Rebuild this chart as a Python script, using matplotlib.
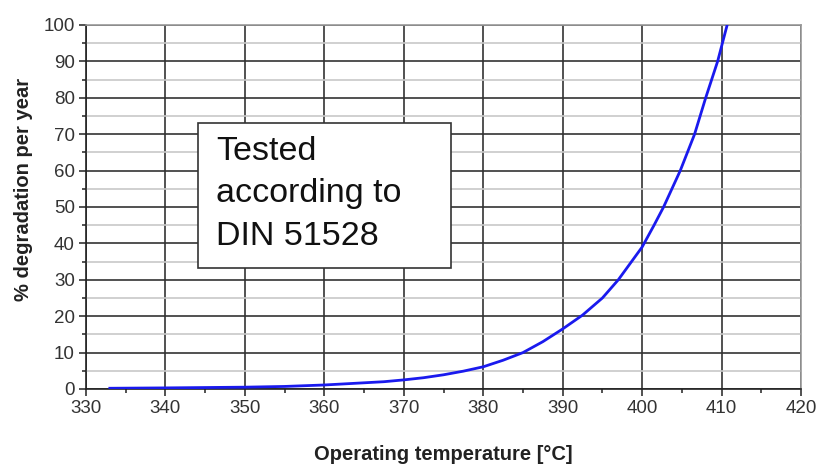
import matplotlib
matplotlib.use("Agg")
import matplotlib.pyplot as plt
from matplotlib.ticker import MultipleLocator

plt.rcParams['font.family'] = ['Liberation Sans', 'DejaVu Sans']

# values
temperature = [333, 340, 350, 355, 360, 362.5, 365, 367.5, 370, 372.5, 375,
               377.5, 380, 382.5, 385, 387.5, 390, 392.5, 395, 397, 398.5,
               400, 401.5, 402.7, 404.8, 406.6, 408, 409.5, 410.7, 411.2]
degradation = [0.2, 0.3, 0.5, 0.7, 1.1, 1.4, 1.7, 2.0, 2.5, 3.1, 3.9,
               4.9, 6.1, 7.9, 10, 13, 16.5, 20.3, 25, 30, 34.5,
               39, 45, 50, 60, 70, 80, 90, 100, 104]

x_ticks = list(range(330, 421, 10))
y_ticks = list(range(0, 101, 10))

fig = plt.figure(figsize=(8.22, 4.69), dpi=100)
ax = fig.add_axes([0.1046, 0.1706, 0.8699, 0.7761])

ax.plot(temperature, degradation, color='#1a1aee', lw=2, zorder=3)

ax.set_xlim(330, 420)
ax.set_ylim(0, 100)
ax.set_xticks(x_ticks)
ax.set_yticks(y_ticks)
ax.xaxis.set_minor_locator(MultipleLocator(5))
ax.yaxis.set_minor_locator(MultipleLocator(5))

ax.grid(which='major', color='#333333', lw=1.2)
ax.grid(which='minor', axis='y', color='#c8c8c8', lw=1.2)
ax.set_axisbelow(True)

for side in ['left', 'bottom']:
    ax.spines[side].set_color('#222222')
    ax.spines[side].set_linewidth(1.2)
for side in ['top', 'right']:
    ax.spines[side].set_color('#999999')
    ax.spines[side].set_linewidth(1.2)

ax.tick_params(which='major', length=5, width=1.1, color='#222222',
               labelsize=13.5, labelcolor='#333333', pad=3)
ax.tick_params(which='minor', length=3, width=1.1, color='#222222')

ax.set_xlabel('Operating temperature [°C]', fontsize=14.5, fontweight='bold',
              color='#222222', labelpad=20)
ax.set_ylabel('% degradation per year', fontsize=14.5, fontweight='bold',
              color='#222222')
ax.yaxis.set_label_coords(-0.074, 0.547)

# annotation box
box = plt.Rectangle((197.7, 469 - 267.7), 253.3, 145, transform=None,
                    facecolor='white', edgecolor='#333333', lw=1.2, zorder=4)
fig.add_artist(box)
fig.text(216 / 822, 1 - 136 / 469, 'Tested\naccording to\nDIN 51528',
         fontsize=24.5, color='#111111', va='top', ha='left',
         linespacing=1.47, zorder=6)

fig.savefig('out.png', dpi=100)
